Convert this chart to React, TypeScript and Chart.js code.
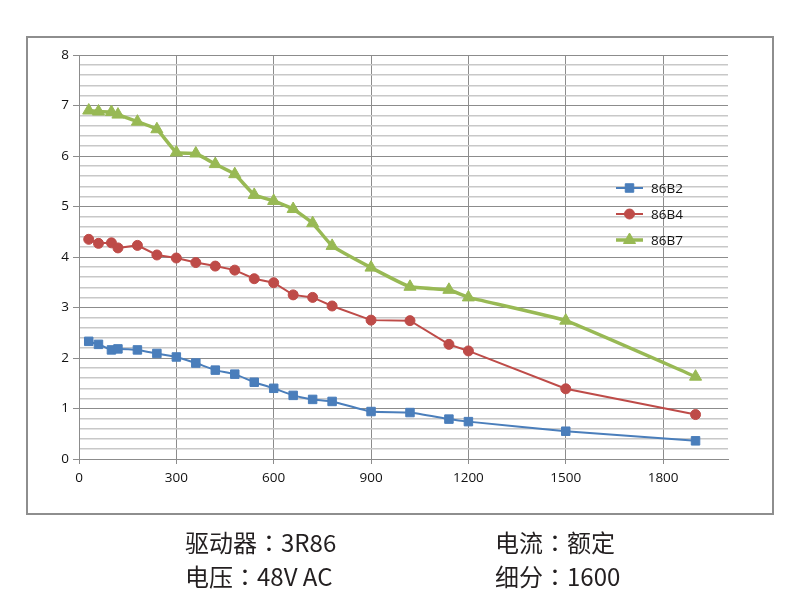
import React, { useEffect, useRef } from 'react';
import { Chart, registerables } from 'chart.js';
import { drawPoint } from 'chart.js/helpers';

Chart.register(...registerables);

const speeds = [30, 60, 100, 120, 180, 240, 300, 360, 420, 480, 540, 600, 660, 720, 780, 900, 1020, 1140, 1200, 1500, 1900];
const torque86B2 = [2.33, 2.27, 2.16, 2.18, 2.16, 2.09, 2.02, 1.9, 1.76, 1.68, 1.52, 1.4, 1.26, 1.18, 1.14, 0.94, 0.92, 0.79, 0.74, 0.55, 0.36];
const torque86B4 = [4.35, 4.27, 4.28, 4.18, 4.23, 4.04, 3.98, 3.89, 3.82, 3.74, 3.57, 3.49, 3.25, 3.2, 3.03, 2.75, 2.74, 2.27, 2.14, 1.39, 0.88];
const torque86B7 = [6.9, 6.88, 6.87, 6.82, 6.68, 6.53, 6.07, 6.05, 5.84, 5.64, 5.23, 5.11, 4.95, 4.67, 4.22, 3.79, 3.41, 3.35, 3.2, 2.74, 1.63];
const seriesNames = ['86B2', '86B4', '86B7'];
const captionLeft = ['驱动器：3R86', '电压：48V AC'];
const captionRight = ['电流：额定', '细分：1600'];

const BLUE = '#4A7EBB';
const RED = '#BE4B48';
const GREEN = '#98B954';
const FONT = '"Open Sans", "Segoe UI", sans-serif';
const FONT_SIZE = 13.5;
const TEXT = '#111';

const isMajor = (v: number) => Math.abs(v - Math.round(v)) < 1e-6;

const legendPlugin = {
  id: 'excelLegend',
  afterDraw(chart: any) {
    const ctx = chart.ctx;
    chart.data.datasets.forEach((ds: any, i: number) => {
      const y = 188 + i * 26;
      ctx.save();
      ctx.strokeStyle = ds.borderColor;
      ctx.lineWidth = ds.borderWidth;
      ctx.beginPath();
      ctx.moveTo(616, y);
      ctx.lineTo(643, y);
      ctx.stroke();
      ctx.fillStyle = ds.pointBackgroundColor;
      ctx.strokeStyle = ds.pointBorderColor;
      ctx.lineWidth = 1;
      drawPoint(ctx, { pointStyle: ds.pointStyle, radius: ds.pointRadius, rotation: 0, borderWidth: 1 } as any, 629.5, y);
      ctx.fillStyle = TEXT;
      ctx.font = `${FONT_SIZE}px ${FONT}`;
      ctx.textBaseline = 'middle';
      ctx.textAlign = 'left';
      ctx.fillText(ds.label, 651, y + 1);
      ctx.restore();
    });
  },
};

function Caption({ text }: { text: string }) {
  const [a, b] = text.split('：');
  return (
    <div>
      {a}
      <span style={{ fontFamily: '"Noto Sans CJK TC", "Noto Sans CJK JP", sans-serif' }}>：</span>
      {b}
    </div>
  );
}

export default function App() {
  const ref = useRef<HTMLCanvasElement | null>(null);

  useEffect(() => {
    if (!ref.current) return;
    const mk = (vals: number[]) => speeds.map((x, i) => ({ x, y: vals[i] }));
    const chart = new Chart(ref.current, {
      type: 'line',
      data: {
        datasets: [
          {
            label: seriesNames[0],
            data: mk(torque86B2),
            borderColor: BLUE,
            backgroundColor: BLUE,
            pointBackgroundColor: BLUE,
            pointBorderColor: BLUE,
            borderWidth: 2,
            pointStyle: 'rect',
            pointRadius: 6,
            pointBorderWidth: 1,
            tension: 0.15,
          },
          {
            label: seriesNames[1],
            data: mk(torque86B4),
            borderColor: RED,
            backgroundColor: RED,
            pointBackgroundColor: RED,
            pointBorderColor: RED,
            borderWidth: 2,
            pointStyle: 'circle',
            pointRadius: 5,
            pointBorderWidth: 1,
            tension: 0,
          },
          {
            label: seriesNames[2],
            data: mk(torque86B7),
            borderColor: GREEN,
            backgroundColor: GREEN,
            pointBackgroundColor: GREEN,
            pointBorderColor: GREEN,
            borderWidth: 3.5,
            pointStyle: 'triangle',
            pointRadius: 7,
            pointBorderWidth: 1,
            tension: 0.1,
          },
        ] as any,
      },
      options: {
        responsive: false,
        animation: false,
        devicePixelRatio: 1,
        layout: { padding: { left: 0, right: 72, top: 55, bottom: 0 } },
        plugins: { legend: { display: false }, tooltip: { enabled: false } },
        scales: {
          x: {
            type: 'linear',
            min: 0,
            max: 2000,
            afterFit: (s: any) => { s.height = 141; },
            ticks: {
              stepSize: 300,
              includeBounds: false,
              color: TEXT,
              font: { family: FONT, size: FONT_SIZE },
              padding: 6,
              maxRotation: 0,
              callback: (v: any) => String(Math.round(Number(v))),
            },
            grid: { color: '#8c8c8c', lineWidth: 1, tickLength: 5, tickColor: '#8c8c8c' },
            border: { color: '#8c8c8c', width: 1 },
          },
          y: {
            type: 'linear',
            min: 0,
            max: 8,
            afterFit: (s: any) => { s.width = 79; },
            ticks: {
              stepSize: 0.2,
              autoSkip: false,
              color: TEXT,
              font: { family: FONT, size: FONT_SIZE },
              padding: 4,
              callback: (v: any) => (isMajor(Number(v)) ? String(Math.round(Number(v))) : ''),
            },
            grid: {
              color: (c: any) => (isMajor(c.tick.value) ? '#8c8c8c' : '#c8c8c8'),
              lineWidth: (c: any) => (isMajor(c.tick.value) ? 1 : 1.5),
              tickLength: 6,
              tickColor: (c: any) => (isMajor(c.tick.value) ? '#8c8c8c' : 'rgba(0,0,0,0)'),
            },
            border: { color: '#8c8c8c', width: 1 },
          },
        },
      } as any,
      plugins: [legendPlugin],
    });
    return () => chart.destroy();
  }, []);

  const capStyle: React.CSSProperties = {
    position: 'absolute',
    top: 525,
    fontFamily: '"Noto Sans CJK SC", sans-serif',
    fontSize: 24,
    lineHeight: '34px',
    color: '#231f20',
    whiteSpace: 'nowrap',
  };

  return (
    <div style={{ position: 'absolute', left: 0, top: 0, width: 800, height: 600, background: '#fff' }}>
      <div
        style={{
          position: 'absolute',
          left: 26,
          top: 36,
          width: 744,
          height: 475,
          border: '2px solid #8e8e8e',
        }}
      />
      <canvas ref={ref} width={800} height={600} style={{ position: 'absolute', left: 0, top: 0, width: 800, height: 600 }} />
      <div style={{ ...capStyle, left: 185 }}>
        {captionLeft.map((t) => (
          <Caption key={t} text={t} />
        ))}
      </div>
      <div style={{ ...capStyle, left: 495 }}>
        {captionRight.map((t) => (
          <Caption key={t} text={t} />
        ))}
      </div>
    </div>
  );
}
